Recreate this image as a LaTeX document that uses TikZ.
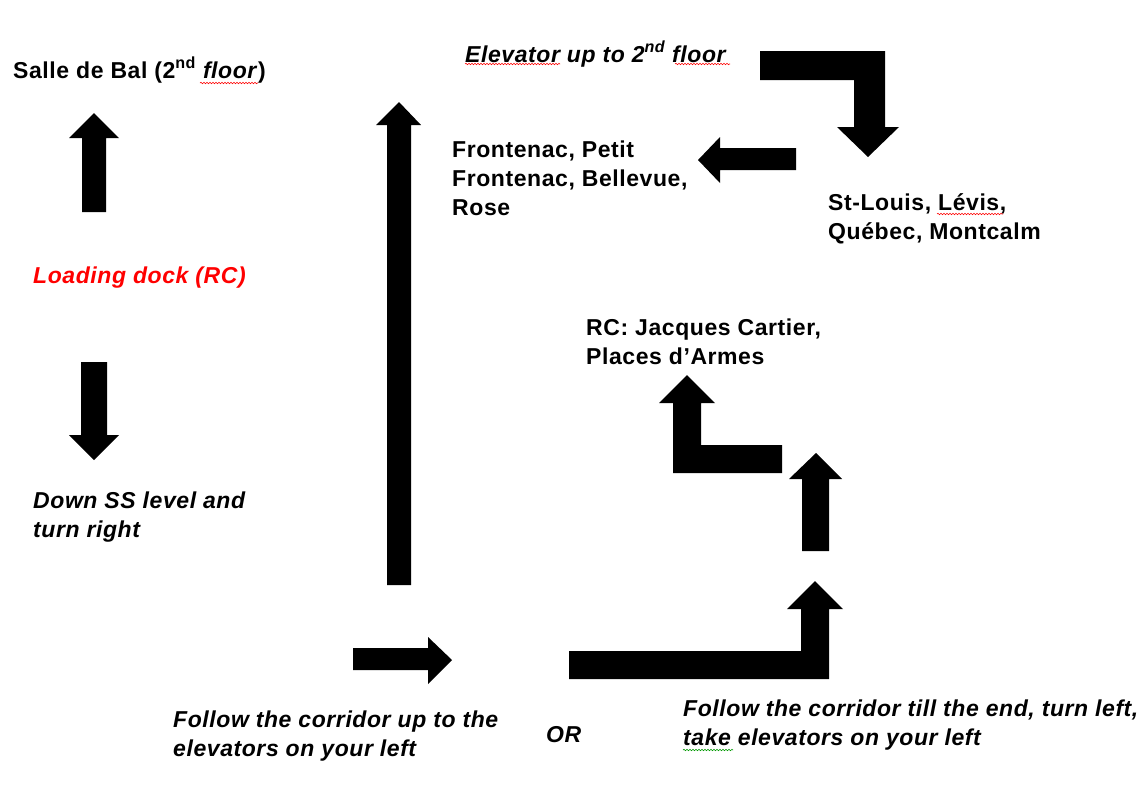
\documentclass[tikz,border=0pt]{standalone}
\usepackage{fontspec}
\setmainfont{Liberation Sans}[LetterSpace=2.5]
\usetikzlibrary{decorations.pathmorphing}
\begin{document}
\begin{tikzpicture}[x=1pt,y=-1pt,
  blk/.style={fill=black,draw=none},
  lbl/.style={font=\fontsize{23}{29}\selectfont\bfseries, anchor=base west, inner sep=0pt, align=left},
  lbli/.style={lbl, font=\fontsize{23}{29}\selectfont\bfseries\itshape},
  spell/.style={draw=red, line width=0.6pt, decorate, decoration={snake, amplitude=0.7pt, segment length=3pt}},
  spellg/.style={spell, draw=green!60!black},
]
\useasboundingbox[fill=white] (0,0) rectangle (1144,785);

% texts (multi-line nodes are placed at the baseline of their last line)
\node[lbl] (salle) at (13,78) {Salle de Bal (2\textsuperscript{nd} \textit{floor})};
\node[lbli] (elev) at (465,62) {Elevator up to 2\textsuperscript{nd} floor};
\node[lbl] (front) at (452,215) {Frontenac, Petit\\Frontenac, Bellevue,\\Rose};
\node[lbl] (stl) at (828,239) {St-Louis, Lévis,\\Québec, Montcalm};
\node[lbli, text={rgb,255:red,255;green,0;blue,0}] (dock) at (33,283) {Loading dock (RC)};
\node[lbli] (down) at (33,537) {Down SS level and\\turn right};
\node[lbl] (rc) at (586,364) {RC: Jacques Cartier,\\Places d’Armes};
\node[lbli] (foll1) at (173,756) {Follow the corridor up to the\\elevators on your left};
\node[lbli] (or) at (546,742) {OR};
\node[lbli] (foll2) at (683,745) {Follow the corridor till the end, turn left,\\take elevators on your left};

% spell-check underlines
\draw[spell] (200,83) -- (258,83);
\draw[spell] (465,64) -- (560,64);
\draw[spell] (675,64) -- (730,64);
\draw[spell] (937,214) -- (1003,214);
\draw[spellg] (683,750) -- (733,750);

% block arrows
\fill[blk] (82,212) -- (82,138) -- (69,138) -- (94,113) -- (119,138) -- (106,138) -- (106,212) -- cycle;
\fill[blk] (81,362) -- (107,362) -- (107,435) -- (119,435) -- (94,460) -- (69,435) -- (81,435) -- cycle;
\fill[blk] (387,585) -- (387,125) -- (376,125) -- (399,102) -- (421,125) -- (411,125) -- (411,585) -- cycle;
\fill[blk] (760,51) -- (885,51) -- (885,127) -- (899,127) -- (868,157) -- (837,127) -- (854,127) -- (854,80) -- (760,80) -- cycle;
\fill[blk] (796,148) -- (720,148) -- (720,137) -- (698,160) -- (720,183) -- (720,170) -- (796,170) -- cycle;
\fill[blk] (782,445) -- (701,445) -- (701,403) -- (715,403) -- (687,375) -- (659,403) -- (673,403) -- (673,473) -- (782,473) -- cycle;
\fill[blk] (802,551) -- (802,479) -- (789,479) -- (816,453) -- (842,479) -- (829,479) -- (829,551) -- cycle;
\fill[blk] (353,648) -- (428,648) -- (428,637) -- (452,660) -- (428,684) -- (428,670) -- (353,670) -- cycle;
\fill[blk] (569,651) -- (801,651) -- (801,609) -- (787,609) -- (815,581) -- (843,609) -- (829,609) -- (829,679) -- (569,679) -- cycle;
\end{tikzpicture}
\end{document}
